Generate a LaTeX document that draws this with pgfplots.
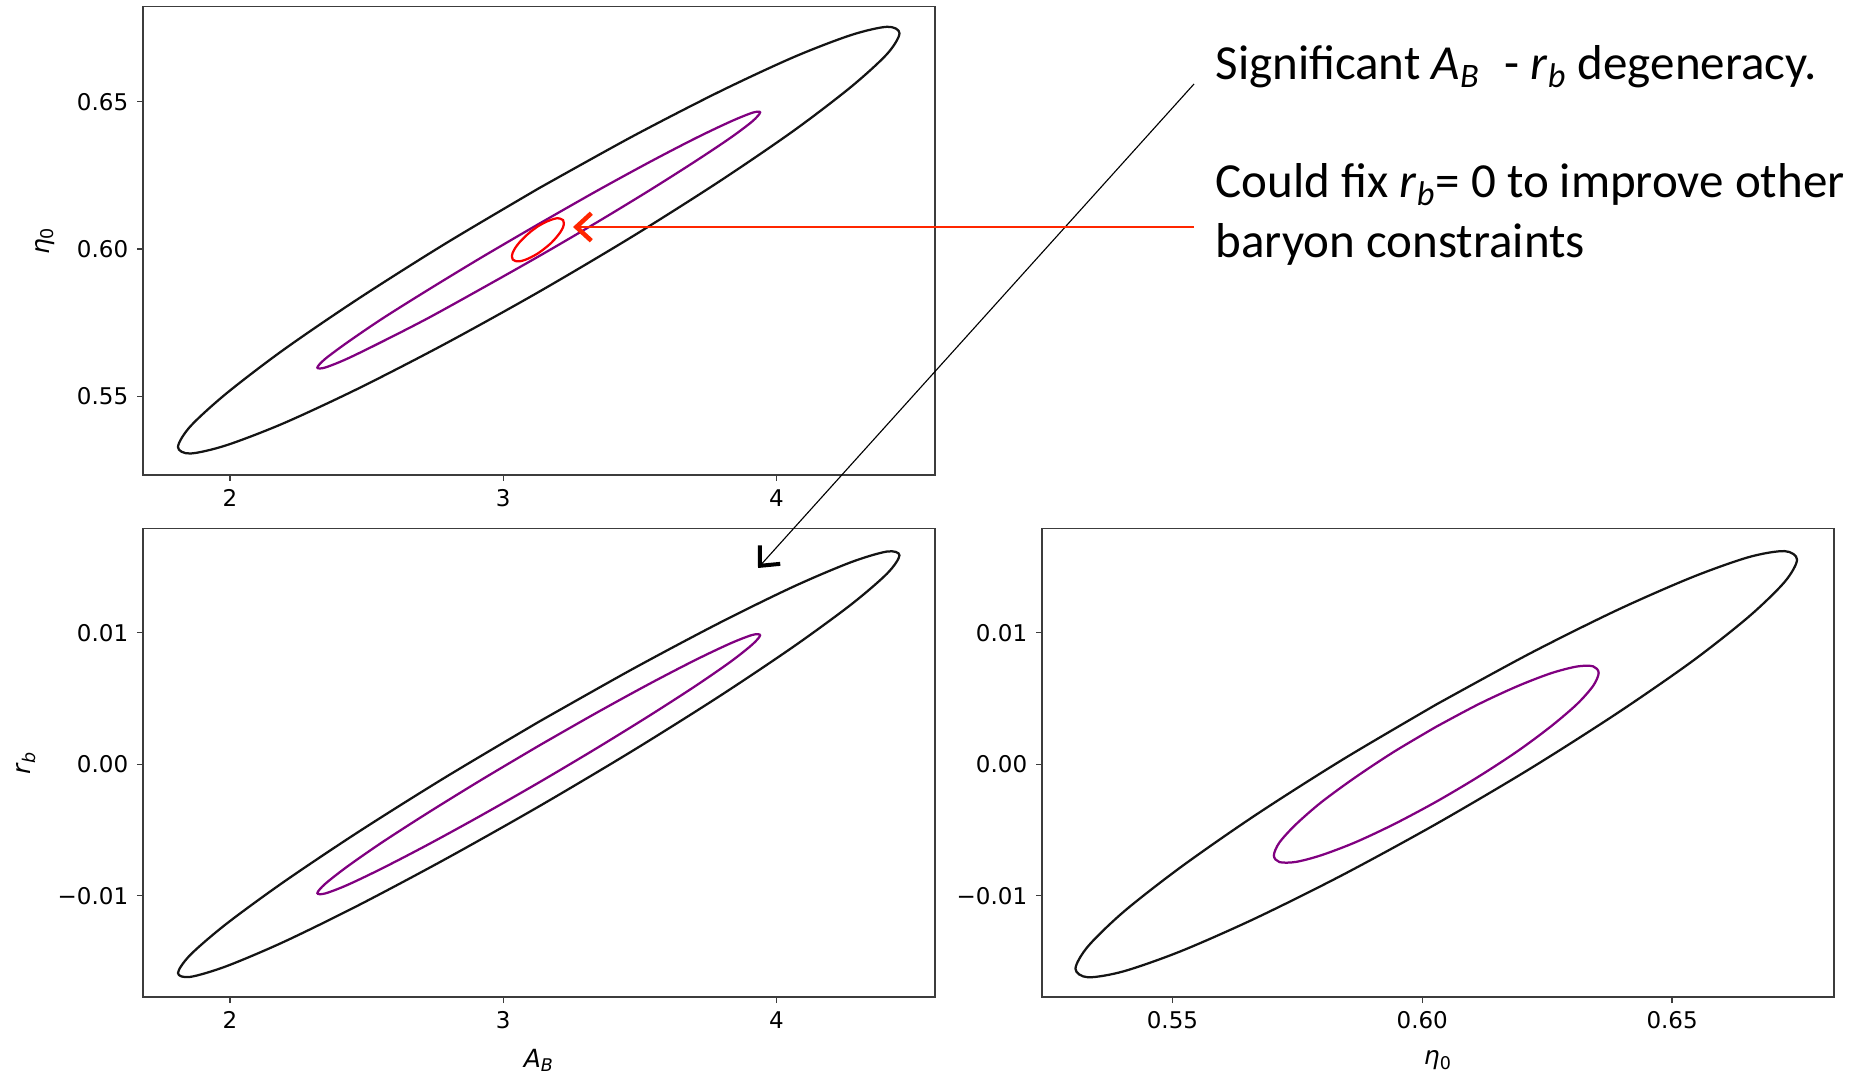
\documentclass[border=0pt]{standalone}
\usepackage{fontspec}
\setmainfont{DejaVu Sans}
\newfontfamily\calib{Carlito}
\usepackage{pgfplots}
\pgfplotsset{compat=1.18}
\usetikzlibrary{arrows.meta}

\definecolor{cpurple}{RGB}{128,0,128}
\definecolor{cred}{RGB}{250,0,0}
\definecolor{arrowred}{RGB}{255,38,0}
\definecolor{framegray}{RGB}{60,60,60}
\definecolor{ink}{RGB}{20,20,20}

\pgfplotsset{
  panel/.style={
    scale only axis, width=316.8pt, height=187.4pt,
    axis line style={framegray, line width=0.6pt},
    tick style={framegray, line width=0.5pt},
    major tick length=2.4pt, tick align=outside,
    xtick pos=bottom, ytick pos=left,
    scaled x ticks=false, scaled y ticks=false,
    ticklabel style={font=\fontsize{9.2}{11}\selectfont},
    label style={font=\fontsize{10}{12}\selectfont},
    /pgf/number format/assume math mode=true,
    every axis plot/.append style={line width=0.9pt, smooth},
  },
}

\begin{document}
\begin{tikzpicture}
\useasboundingbox (0,0) rectangle (748.8pt,431.2pt);

% top left: A_B vs eta_0
\begin{axis}[panel, at={(57.2pt,241.2pt)}, anchor=south west,
  xmin=1.682, xmax=4.58, ymin=0.5232, ymax=0.6824,
  xtick={2,3,4}, xticklabels={2,3,4},
  ytick={0.55,0.60,0.65}, yticklabels={0.55,0.60,0.65},
  ylabel={\textit{η}\textsubscript{0}},
  ylabel style={at={(axis description cs:-0.124,0.5)}, anchor=center},
]
\addplot[ink] coordinates {(3.130,0.6206) (2.788,0.6018) (2.470,0.5831) (2.197,0.5658) (1.987,0.5509) (1.855,0.5397) (1.810,0.5327) (1.855,0.5305) (1.987,0.5333) (2.197,0.5408) (2.470,0.5526) (2.788,0.5678) (3.130,0.5854) (3.472,0.6042) (3.790,0.6229) (4.063,0.6402) (4.273,0.6551) (4.405,0.6663) (4.450,0.6733) (4.405,0.6755) (4.273,0.6727) (4.063,0.6652) (3.790,0.6534) (3.472,0.6382) (3.130,0.6206)};
\addplot[cpurple] coordinates {(3.130,0.6085) (2.920,0.5971) (2.725,0.5861) (2.557,0.5763) (2.429,0.5682) (2.348,0.5626) (2.320,0.5597) (2.348,0.5597) (2.429,0.5627) (2.557,0.5685) (2.725,0.5765) (2.920,0.5865) (3.130,0.5975) (3.340,0.6089) (3.535,0.6199) (3.703,0.6298) (3.832,0.6378) (3.912,0.6434) (3.940,0.6464) (3.912,0.6463) (3.832,0.6433) (3.703,0.6376) (3.535,0.6295) (3.340,0.6196) (3.130,0.6085)};
\addplot[cred] coordinates {(3.127,0.6077) (3.102,0.6060) (3.080,0.6042) (3.060,0.6023) (3.045,0.6005) (3.035,0.5988) (3.032,0.5974) (3.035,0.5964) (3.045,0.5959) (3.060,0.5958) (3.080,0.5963) (3.102,0.5972) (3.127,0.5985) (3.152,0.6002) (3.175,0.6020) (3.194,0.6039) (3.209,0.6057) (3.219,0.6074) (3.222,0.6088) (3.219,0.6098) (3.209,0.6103) (3.194,0.6104) (3.175,0.6099) (3.152,0.6090) (3.127,0.6077)};
\end{axis}

% bottom left: A_B vs r_b
\begin{axis}[panel, at={(57.2pt,32.4pt)}, anchor=south west,
  xmin=1.682, xmax=4.58, ymin=-0.0177, ymax=0.01792,
  xtick={2,3,4}, xticklabels={2,3,4},
  ytick={-0.01,0,0.01}, yticklabels={−0.01,0.00,0.01},
  xlabel={\textit{A}\textsubscript{\textit{B}}},
  ylabel={\textit{r}\textsubscript{\textit{b}}},
  xlabel style={at={(axis description cs:0.5,-0.135)}, anchor=center},
  ylabel style={at={(axis description cs:-0.148,0.5)}, anchor=center},
]
\addplot[ink] coordinates {(3.130,0.00322) (2.788,-0.00100) (2.470,-0.00515) (2.197,-0.00895) (1.987,-0.01214) (1.855,-0.01450) (1.810,-0.01588) (1.855,-0.01617) (1.987,-0.01536) (2.197,-0.01351) (2.470,-0.01073) (2.788,-0.00722) (3.130,-0.00322) (3.472,0.00100) (3.790,0.00515) (4.063,0.00895) (4.273,0.01214) (4.405,0.01450) (4.450,0.01588) (4.405,0.01617) (4.273,0.01536) (4.063,0.01351) (3.790,0.01073) (3.472,0.00722) (3.130,0.00322)};
\addplot[cpurple] coordinates {(3.130,0.00140) (2.920,-0.00119) (2.725,-0.00369) (2.557,-0.00594) (2.429,-0.00779) (2.348,-0.00911) (2.320,-0.00980) (2.348,-0.00983) (2.429,-0.00919) (2.557,-0.00792) (2.725,-0.00611) (2.920,-0.00389) (3.130,-0.00140) (3.340,0.00119) (3.535,0.00369) (3.703,0.00594) (3.832,0.00779) (3.912,0.00911) (3.940,0.00980) (3.912,0.00983) (3.832,0.00919) (3.703,0.00792) (3.535,0.00611) (3.340,0.00389) (3.130,0.00140)};
\end{axis}

% bottom right: eta_0 vs r_b
\begin{axis}[panel, at={(416.8pt,32.4pt)}, anchor=south west,
  xmin=0.5239, xmax=0.6824, ymin=-0.0177, ymax=0.01792,
  xtick={0.55,0.60,0.65}, xticklabels={0.55,0.60,0.65},
  ytick={-0.01,0,0.01}, yticklabels={−0.01,0.00,0.01},
  xlabel={\textit{η}\textsubscript{0}},
  xlabel style={at={(axis description cs:0.5,-0.135)}, anchor=center},
]
\addplot[ink] coordinates {(0.6028,0.00454) (0.5841,0.00036) (0.5667,-0.00385) (0.5518,-0.00779) (0.5403,-0.01120) (0.5331,-0.01385) (0.5306,-0.01555) (0.5331,-0.01620) (0.5403,-0.01574) (0.5518,-0.01420) (0.5667,-0.01170) (0.5841,-0.00841) (0.6028,-0.00454) (0.6215,-0.00036) (0.6389,0.00385) (0.6539,0.00779) (0.6653,0.01120) (0.6725,0.01385) (0.6750,0.01555) (0.6725,0.01620) (0.6653,0.01574) (0.6539,0.01420) (0.6389,0.01170) (0.6215,0.00841) (0.6028,0.00454)};
\addplot[cpurple] coordinates {(0.6028,0.00285) (0.5944,0.00096) (0.5866,-0.00100) (0.5798,-0.00289) (0.5747,-0.00458) (0.5714,-0.00596) (0.5703,-0.00694) (0.5714,-0.00744) (0.5747,-0.00743) (0.5798,-0.00692) (0.5866,-0.00594) (0.5944,-0.00455) (0.6028,-0.00285) (0.6112,-0.00096) (0.6191,0.00100) (0.6258,0.00289) (0.6310,0.00458) (0.6342,0.00596) (0.6353,0.00694) (0.6342,0.00744) (0.6310,0.00743) (0.6258,0.00692) (0.6191,0.00594) (0.6112,0.00455) (0.6028,0.00285)};
\end{axis}

% annotations
\draw[black, line width=0.45pt, -{Straight Barb[length=6pt,width=11pt,line width=1.6pt]}]
  (477.6pt,397.6pt) -- (303.2pt,204pt);
\draw[arrowred, line width=0.5pt, -{Straight Barb[length=6pt,width=11pt,line width=1.8pt]}]
  (477.6pt,340.4pt) -- (229.2pt,340.4pt);
\begin{scope}[every node/.style={anchor=base west, inner sep=0pt, font=\calib\fontsize{19.6}{23}\selectfont}]
\node at (486pt,399.4pt) {Significant \textit{A}\textsubscript{\textit{B}}\enspace- \textit{r}\textsubscript{\textit{b}} degeneracy.};
\node at (486pt,352.1pt) {Could fix \textit{r}\textsubscript{\textit{b}}= 0 to improve other};
\node at (486pt,328.2pt) {baryon constraints};
\end{scope}
\end{tikzpicture}
\end{document}
